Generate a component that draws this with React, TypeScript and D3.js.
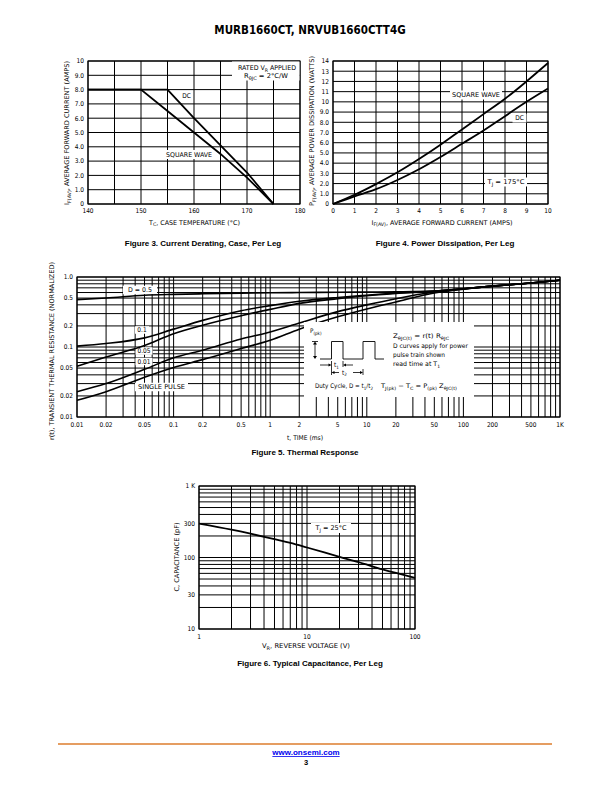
import React from 'react';
import * as d3 from 'd3';

// ---- Figure 3: current derating ----
const caseTemp = [140, 150, 155, 160, 165, 170, 175];
const derateDc = [8, 8, 8, 6.0, 4.1, 2.2, 0];
const derateSquare = [8, 8, 6.5, 5.0, 3.5, 1.85, 0];
const fig3XTicks = [140, 150, 160, 170, 180];
const fig3YTicks = [0, 1, 2, 3, 4, 5, 6, 7, 8, 9, 10];
const fig3YLabels = ['0', '1.0', '2.0', '3.0', '4.0', '5.0', '6.0', '7.0', '8.0', '9.0', '10'];

// ---- Figure 4: power dissipation ----
const fwdCurrent = [0, 1, 2, 3, 4, 5, 6, 7, 8, 9, 10];
const powerSquare = [0, 0.9, 1.95, 3.1, 4.4, 5.8, 7.3, 8.8, 10.3, 12.0, 13.8];
const powerDc = [0, 0.75, 1.45, 2.35, 3.4, 4.6, 5.9, 7.2, 8.6, 10.0, 11.3];
const fig4XTicks = [0, 1, 2, 3, 4, 5, 6, 7, 8, 9, 10];
const fig4YTicks = [0, 1, 2, 3, 4, 5, 6, 7, 8, 9, 10, 11, 12, 13, 14];
const fig4YLabels = ['0', '1.0', '2.0', '3.0', '4.0', '5.0', '6.0', '7.0', '8.0', '9.0', '10', '11', '12', '13', '14'];

// ---- Figure 5: thermal response ----
const pulseTime = [0.01, 0.02, 0.05, 0.1, 0.2, 0.5, 1, 2, 5, 10, 20, 50, 100, 200, 500, 1000];
const rDuty05 = [0.475, 0.5, 0.55, 0.565, 0.575, 0.585, 0.595, 0.6, 0.605, 0.61, 0.615, 0.63, 0.68, 0.74, 0.82, 0.9];
const rDuty01 = [0.103, 0.112, 0.135, 0.18, 0.24, 0.33, 0.39, 0.45, 0.51, 0.55, 0.59, 0.63, 0.68, 0.74, 0.82, 0.9];
const rDuty005 = [0.053, 0.072, 0.105, 0.155, 0.205, 0.28, 0.345, 0.42, 0.49, 0.54, 0.58, 0.625, 0.68, 0.74, 0.82, 0.9];
const rDuty001 = [0.023, 0.03, 0.048, 0.07, 0.09, 0.13, 0.164, 0.22, 0.32, 0.4, 0.49, 0.61, 0.675, 0.74, 0.82, 0.9];
const rSingle = [0.0173, 0.023, 0.037, 0.051, 0.066, 0.095, 0.125, 0.18, 0.27, 0.35, 0.44, 0.59, 0.67, 0.74, 0.82, 0.9];
const fig5XLabels = ['0.01', '0.02', '0.05', '0.1', '0.2', '0.5', '1', '2', '5', '10', '20', '50', '100', '200', '500', '1K'];
const fig5YTicks = [0.01, 0.02, 0.05, 0.1, 0.2, 0.5, 1];
const fig5YLabels = ['0.01', '0.02', '0.05', '0.1', '0.2', '0.5', '1.0'];

// ---- Figure 6: capacitance ----
const reverseVoltage = [1, 2, 3, 5, 7, 10, 20, 30, 50, 100];
const capacitance = [298, 245, 215, 180, 160, 138, 102, 86, 68, 52];
const fig6XTicks = [1, 10, 100];
const fig6XLabels = ['1', '10', '100'];
const fig6YTicks = [10, 30, 100, 300, 1000];
const fig6YLabels = ['10', '30', '100', '300', '1 K'];

const W = 612;
const H = 792;
const FONT = "'Liberation Sans Narrow','Arial Narrow','DejaVu Sans Condensed',sans-serif";
const FONT_BOLD = "'Liberation Sans',Arial,Helvetica,sans-serif";
const TICK = 6.5;
const GRID_W = 1;
const CURVE_W = 1.8;

type Box = { x0: number; x1: number; y0: number; y1: number };

function logSteps(min: number, max: number) {
  const out: number[] = [];
  for (let e = Math.floor(Math.log10(min)); Math.pow(10, e) <= max; e++) {
    for (let k = 1; k < 10; k++) {
      const v = +(k * Math.pow(10, e)).toPrecision(3);
      if (v >= min * 0.999 && v <= max * 1.001) out.push(v);
    }
  }
  return out;
}

function Grid({ xs, ys, x, y, box }: { xs: number[]; ys: number[]; x: any; y: any; box: Box }) {
  return (
    <g stroke="#000" strokeWidth={GRID_W}>
      {xs.map(v => <line key={'x' + v} x1={x(v)} x2={x(v)} y1={box.y0} y2={box.y1} />)}
      {ys.map(v => <line key={'y' + v} x1={box.x0} x2={box.x1} y1={y(v)} y2={y(v)} />)}
      <rect x={box.x0} y={box.y0} width={box.x1 - box.x0} height={box.y1 - box.y0} fill="none" strokeWidth={1.1} />
    </g>
  );
}

function Tag({ x, y, w, h, children, size = TICK, len }: any) {
  return (
    <g>
      <rect x={x - w / 2} y={y - h / 2} width={w} height={h} fill="#fff" />
      <text x={x} y={y + size * 0.36} textAnchor="middle" fontSize={size}
        textLength={len} lengthAdjust={len ? 'spacingAndGlyphs' : undefined}>{children}</text>
    </g>
  );
}

function Sub({ children, size = 4.8, shift = 1.6 }: any) {
  return <tspan fontSize={size} dy={shift}>{children}</tspan>;
}
function Up({ children, shift = -1.6 }: any) {
  return <tspan dy={shift}>{children}</tspan>;
}

// text squeezed to the width measured on the reference
function Fit({ len, children, ...rest }: any) {
  return <text textLength={len} lengthAdjust="spacingAndGlyphs" {...rest}>{children}</text>;
}

function XLabels({ ticks, labels, x, yPos }: any) {
  return (
    <g fontSize={TICK} textAnchor="middle">
      {ticks.map((t: number, i: number) => <text key={t} x={x(t)} y={yPos}>{labels[i]}</text>)}
    </g>
  );
}
function YLabels({ ticks, labels, y, xPos }: any) {
  return (
    <g fontSize={TICK} textAnchor="end">
      {ticks.map((t: number, i: number) => <text key={t} x={xPos} y={y(t) + 2.3}>{labels[i]}</text>)}
    </g>
  );
}

function Figure3() {
  const box = { x0: 88, x1: 300, y0: 61, y1: 204 };
  const x = d3.scaleLinear().domain([140, 180]).range([box.x0, box.x1]);
  const y = d3.scaleLinear().domain([0, 10]).range([box.y1, box.y0]);
  const line = d3.line<number>().x((_, i) => x(caseTemp[i])).y(d => y(d));
  return (
    <g>
      <Grid xs={d3.range(140, 181, 5)} ys={fig3YTicks} x={x} y={y} box={box} />
      <rect x={232} y={61.5} width={67.5} height={19} fill="#fff" />
      <Fit len={58} x={267} y={70} textAnchor="middle" fontSize={TICK}>RATED V<Sub>R</Sub><Up> APPLIED</Up></Fit>
      <Fit len={44} x={266} y={78} textAnchor="middle" fontSize={TICK}>R<Sub>θJC</Sub><Up> = 2°C/W</Up></Fit>
      <Tag x={186.5} y={96} w={13} h={9}>DC</Tag>
      <Tag x={189} y={154.5} w={50} h={9} len={46}>SQUARE WAVE</Tag>
      <path d={line(derateDc) || ''} fill="none" stroke="#000" strokeWidth={CURVE_W} />
      <path d={line(derateSquare) || ''} fill="none" stroke="#000" strokeWidth={CURVE_W} />
      <XLabels ticks={fig3XTicks} labels={fig3XTicks.map(String)} x={x} yPos={box.y1 + 9} />
      <YLabels ticks={fig3YTicks} labels={fig3YLabels} y={y} xPos={box.x0 - 4} />
      <Fit len={91} x={194.5} y={224.5} textAnchor="middle" fontSize={TICK}>T<Sub>C</Sub><Up>, CASE TEMPERATURE (°C)</Up></Fit>
      <Fit len={144} transform="translate(69,133) rotate(-90)" textAnchor="middle" fontSize={TICK}>I<Sub>F(AV)</Sub><Up>, AVERAGE FORWARD CURRENT (AMPS)</Up></Fit>
      <text x={203} y={246} textAnchor="middle" fontSize={8} fontWeight="bold" fontFamily={FONT_BOLD}>Figure 3. Current Derating, Case, Per Leg</text>
    </g>
  );
}

function Figure4() {
  const box = { x0: 333, x1: 548, y0: 61, y1: 204 };
  const x = d3.scaleLinear().domain([0, 10]).range([box.x0, box.x1]);
  const y = d3.scaleLinear().domain([0, 14]).range([box.y1, box.y0]);
  const line = d3.line<number>().x((_, i) => x(fwdCurrent[i])).y(d => y(d)).curve(d3.curveMonotoneX);
  return (
    <g>
      <Grid xs={fig4XTicks} ys={fig4YTicks} x={x} y={y} box={box} />
      <Tag x={476} y={95} w={52} h={9} len={48}>SQUARE WAVE</Tag>
      <Tag x={519.5} y={118} w={14} h={9}>DC</Tag>
      <Tag x={506} y={182} w={42} h={9} len={37}>T<Sub>J</Sub><Up> = 175°C</Up></Tag>
      <path d={line(powerSquare) || ''} fill="none" stroke="#000" strokeWidth={CURVE_W} />
      <path d={line(powerDc) || ''} fill="none" stroke="#000" strokeWidth={CURVE_W} />
      <XLabels ticks={fig4XTicks} labels={fig4XTicks.map(String)} x={x} yPos={box.y1 + 9} />
      <YLabels ticks={fig4YTicks} labels={fig4YLabels} y={y} xPos={box.x0 - 4} />
      <Fit len={141} x={442} y={224.5} textAnchor="middle" fontSize={TICK}>I<Sub>F(AV)</Sub><Up>, AVERAGE FORWARD CURRENT (AMPS)</Up></Fit>
      <Fit len={150} transform="translate(314,131) rotate(-90)" textAnchor="middle" fontSize={TICK}>P<Sub>F(AV)</Sub><Up>, AVERAGE POWER DISSIPATION (WATTS)</Up></Fit>
      <text x={445} y={246} textAnchor="middle" fontSize={8} fontWeight="bold" fontFamily={FONT_BOLD}>Figure 4. Power Dissipation, Per Leg</text>
    </g>
  );
}

function Figure5() {
  const box = { x0: 77, x1: 560, y0: 277, y1: 417 };
  const x = d3.scaleLog().domain([0.01, 1000]).range([box.x0, box.x1]);
  const y = d3.scaleLog().domain([0.01, 1]).range([box.y1, box.y0]);
  const line = d3.line<number>().x((_, i) => x(pulseTime[i])).y(d => y(d)).curve(d3.curveMonotoneX);
  const series = [rDuty05, rDuty01, rDuty005, rDuty001, rSingle];
  // pulse train sketch inside the inset
  const lo = 359, hi = 341.5;
  const wave = `M320,${lo} H331.5 V${hi} H343 V${lo} H363 V${hi} H375 V${lo} H384`;
  const IN = 6.3;
  return (
    <g>
      <Grid xs={logSteps(0.01, 1000)} ys={logSteps(0.01, 1)} x={x} y={y} box={box} />
      <Tag x={140} y={290} w={34} h={8.5} len={24}>D = 0.5</Tag>
      <Tag x={142} y={330} w={14} h={7.5}>0.1</Tag>
      <Tag x={144} y={351} w={17} h={7.5} len={13}>0.05</Tag>
      <Tag x={144} y={361.5} w={17} h={7.5} len={13}>0.01</Tag>
      <Tag x={161.5} y={387} w={53} h={8.5} len={47}>SINGLE PULSE</Tag>
      {series.map((s, i) => <path key={i} d={line(s) || ''} fill="none" stroke="#000" strokeWidth={1.6} />)}

      <rect x={304} y={322} width={170} height={75} fill="#fff" />
      <g fontSize={IN}>
        <text x={310} y={333}>P<Sub size={4.5}>(pk)</Sub></text>
        <path d={wave} fill="none" stroke="#000" strokeWidth={0.9} />
        <g stroke="#000" strokeWidth={0.8}>
          <line x1={312} x2={318} y1={hi} y2={hi} />
          <line x1={315} x2={315} y1={hi + 2} y2={lo - 2} />
          <line x1={331.5} x2={331.5} y1={361} y2={375} />
          <line x1={343} x2={343} y1={361} y2={367} />
          <line x1={363} x2={363} y1={369} y2={375} />
          <line x1={320} x2={329} y1={365} y2={365} />
          <line x1={345} x2={353} y1={365} y2={365} />
          <line x1={334} x2={339} y1={372.5} y2={372.5} />
          <line x1={353} x2={360.5} y1={372.5} y2={372.5} />
        </g>
        <g fill="#000">
          <path d={`M315,${hi} l-2,3 h4 z`} />
          <path d={`M315,${lo} l-2,-3 h4 z`} />
          <path d="M331.5,365 l-3,-1.6 v3.2 z" />
          <path d="M343,365 l3,-1.6 v3.2 z" />
          <path d="M331.5,372.5 l3,-1.6 v3.2 z" />
          <path d="M363,372.5 l-3,-1.6 v3.2 z" />
        </g>
        <text x={334} y={367}>t<Sub size={4.5}>1</Sub></text>
        <text x={342} y={374.5}>t<Sub size={4.5}>2</Sub></text>
        <Fit len={56} x={393} y={338}>Z<Sub size={4.5}>θJC(t)</Sub><Up> = r(t) R</Up><Sub size={4.5}>θJC</Sub></Fit>
        <Fit len={75} x={393} y={347.5}>D curves apply for power</Fit>
        <Fit len={52} x={393} y={356.5}>pulse train shown</Fit>
        <Fit len={47} x={393} y={366}>read time at T<Sub size={4.5}>1</Sub></Fit>
        <Fit len={58} x={315} y={388}>Duty Cycle, D = t<Sub size={4.5}>1</Sub><Up>/t</Up><Sub size={4.5}>2</Sub></Fit>
        <Fit len={76} x={381} y={388}>T<Sub size={4.5}>J(pk)</Sub><Up> − T</Up><Sub size={4.5}>C</Sub><Up> = P</Up><Sub size={4.5}>(pk)</Sub><Up> Z</Up><Sub size={4.5}>θJC(t)</Sub></Fit>
      </g>

      <XLabels ticks={pulseTime} labels={fig5XLabels} x={x} yPos={box.y1 + 9.5} />
      <YLabels ticks={fig5YTicks} labels={fig5YLabels} y={y} xPos={box.x0 - 4} />
      <Fit len={36} x={305} y={440} textAnchor="middle" fontSize={TICK}>t, TIME (ms)</Fit>
      <Fit len={178} transform="translate(54,351) rotate(-90)" textAnchor="middle" fontSize={TICK}>r(t), TRANSIENT THERMAL RESISTANCE (NORMALIZED)</Fit>
      <text x={305} y={455} textAnchor="middle" fontSize={8} fontWeight="bold" fontFamily={FONT_BOLD}>Figure 5. Thermal Response</text>
    </g>
  );
}

function Figure6() {
  const box = { x0: 199, x1: 415, y0: 486, y1: 629 };
  const x = d3.scaleLog().domain([1, 100]).range([box.x0, box.x1]);
  const y = d3.scaleLog().domain([10, 1000]).range([box.y1, box.y0]);
  const line = d3.line<number>().x((_, i) => x(reverseVoltage[i])).y(d => y(d)).curve(d3.curveMonotoneX);
  return (
    <g>
      <Grid xs={logSteps(1, 100)} ys={logSteps(10, 1000)} x={x} y={y} box={box} />
      <Tag x={331} y={528} w={40} h={10} len={31}>T<Sub>J</Sub><Up> = 25°C</Up></Tag>
      <path d={line(capacitance) || ''} fill="none" stroke="#000" strokeWidth={CURVE_W} />
      <XLabels ticks={fig6XTicks} labels={fig6XLabels} x={x} yPos={box.y1 + 9.5} />
      <YLabels ticks={fig6YTicks} labels={fig6YLabels} y={y} xPos={box.x0 - 4} />
      <Fit len={88} x={306} y={648} textAnchor="middle" fontSize={TICK}>V<Sub>R</Sub><Up>, REVERSE VOLTAGE (V)</Up></Fit>
      <Fit len={69} transform="translate(179,557) rotate(-90)" textAnchor="middle" fontSize={TICK}>C, CAPACITANCE (pF)</Fit>
      <text x={310} y={666} textAnchor="middle" fontSize={8} fontWeight="bold" fontFamily={FONT_BOLD}>Figure 6. Typical Capacitance, Per Leg</text>
    </g>
  );
}

export default function App() {
  return (
    <svg width={W} height={H} viewBox={`0 0 ${W} ${H}`} fontFamily={FONT}
      style={{ position: 'absolute', left: 0, top: 0, background: '#fff' }}>
      <rect width={W} height={H} fill="#fff" />
      <text x={310} y={34} textAnchor="middle" fontSize={11.5} fontWeight="bold">MURB1660CT, NRVUB1660CTT4G</text>
      <Figure3 />
      <Figure4 />
      <Figure5 />
      <Figure6 />
      <line x1={58} x2={552} y1={744} y2={744} stroke="#dd7d2c" strokeWidth={1.5} />
      <text x={306} y={755} textAnchor="middle" fontSize={8} fontWeight="bold" fontFamily={FONT_BOLD} fill="#0000ee" textDecoration="underline">www.onsemi.com</text>
      <text x={306} y={765} textAnchor="middle" fontSize={7.5} fontWeight="bold" fontFamily={FONT_BOLD}>3</text>
    </svg>
  );
}
